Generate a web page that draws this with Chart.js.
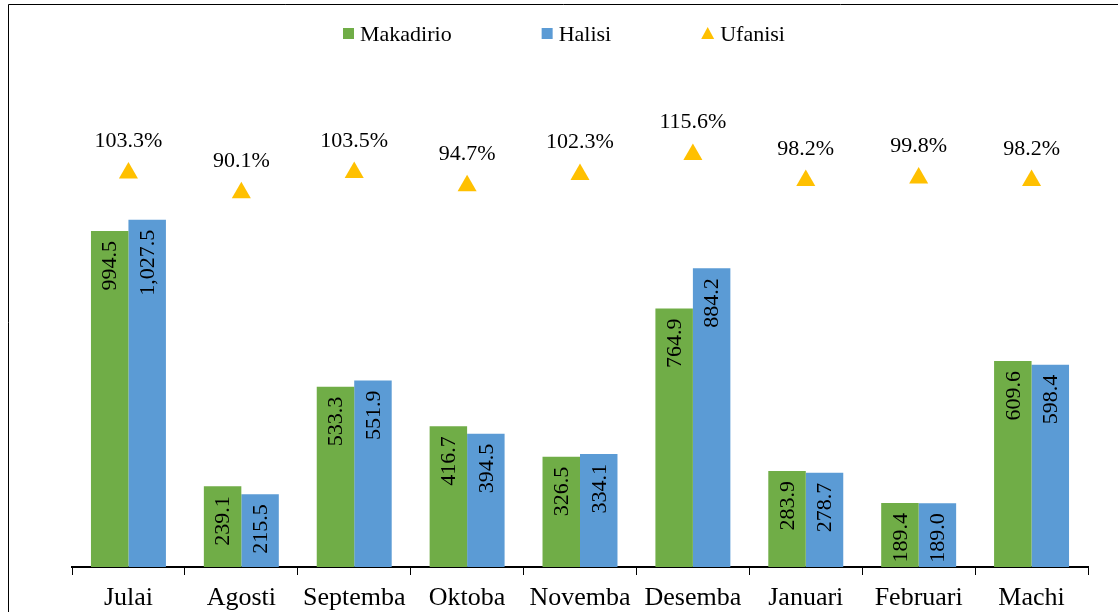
<!DOCTYPE html>
<html>
<head>
<meta charset="utf-8">
<script src="https://cdn.jsdelivr.net/npm/chart.js@4/dist/chart.umd.min.js"></script>
<style>
  html, body { margin: 0; padding: 0; background: #fff; overflow: hidden; }
  canvas { display: block; }
</style>
</head>
<body>
<canvas id="chart" width="1118" height="640"></canvas>
<script>
var months = ['Julai', 'Agosti', 'Septemba', 'Oktoba', 'Novemba', 'Desemba', 'Januari', 'Februari', 'Machi'];
var makadirio = [994.5, 239.1, 533.3, 416.7, 326.5, 764.9, 283.9, 189.4, 609.6];
var halisi = [1027.5, 215.5, 551.9, 394.5, 334.1, 884.2, 278.7, 189.0, 598.4];
var ufanisi = [103.3, 90.1, 103.5, 94.7, 102.3, 115.6, 98.2, 99.8, 98.2];

var serif = '"Liberation Serif", "Times New Roman", serif';
var green = '#70AD47';
var blue = '#5B9BD5';
var gold = '#FFC000';

function fmt(v) {
    return v.toLocaleString('en-US', { minimumFractionDigits: 1, maximumFractionDigits: 1 });
}

// frame, value labels and legend
var extras = {
    id: 'extras',
    beforeDraw: function (chart) {
        var ctx = chart.ctx;
        ctx.save();
        ctx.strokeStyle = '#000';
        ctx.lineWidth = 1;
        ctx.beginPath();
        ctx.moveTo(8.5, chart.height);
        ctx.lineTo(8.5, 4.5);
        ctx.lineTo(chart.width, 4.5);
        ctx.stroke();
        ctx.restore();
    },
    afterDatasetsDraw: function (chart) {
        var ctx = chart.ctx;
        ctx.save();
        ctx.fillStyle = '#000';
        ctx.font = '22px ' + serif;

        [0, 1].forEach(function (d) {
            var meta = chart.getDatasetMeta(d);
            meta.data.forEach(function (bar, i) {
                ctx.save();
                ctx.translate(bar.x, bar.y + 10);
                ctx.rotate(-Math.PI / 2);
                ctx.textAlign = 'right';
                ctx.textBaseline = 'middle';
                ctx.fillText(fmt(chart.data.datasets[d].data[i]), 0, 1);
                ctx.restore();
            });
        });

        var pts = chart.getDatasetMeta(2).data;
        ctx.textAlign = 'center';
        ctx.textBaseline = 'alphabetic';
        pts.forEach(function (p, i) {
            ctx.fillText(ufanisi[i].toFixed(1) + '%', p.x, p.y - 26);
        });
        ctx.restore();
    },
    afterDraw: function (chart) {
        var ctx = chart.ctx;
        ctx.save();
        ctx.font = '22px ' + serif;
        ctx.textBaseline = 'middle';
        ctx.textAlign = 'left';
        var x = 343;
        var cy = 34;
        chart.data.datasets.forEach(function (ds, i) {
            ctx.fillStyle = ds.backgroundColor;
            if (i < 2) {
                ctx.fillRect(x, cy - 6, 11, 11);
            } else {
                ctx.beginPath();
                ctx.moveTo(x + 6.5, cy - 7);
                ctx.lineTo(x + 13, cy + 5);
                ctx.lineTo(x, cy + 5);
                ctx.closePath();
                ctx.fill();
            }
            var tx = x + (i < 2 ? 17 : 19);
            ctx.fillStyle = '#000';
            ctx.fillText(ds.label, tx, cy + 1);
            x = tx + ctx.measureText(ds.label).width + 90;
        });
        ctx.restore();
    }
};

var config = {
    type: 'bar',
    data: {
        labels: months,
        datasets: [
            {
                label: 'Makadirio',
                data: makadirio,
                backgroundColor: green,
                borderWidth: 0,
                yAxisID: 'y',
                order: 2
            },
            {
                label: 'Halisi',
                data: halisi,
                backgroundColor: blue,
                borderWidth: 0,
                yAxisID: 'y',
                order: 2
            },
            {
                type: 'line',
                label: 'Ufanisi',
                data: ufanisi,
                showLine: false,
                pointStyle: 'triangle',
                pointRadius: 11,
                pointHoverRadius: 11,
                backgroundColor: gold,
                borderColor: gold,
                borderWidth: 0,
                yAxisID: 'y2',
                order: 1
            }
        ]
    },
    options: {
        responsive: false,
        animation: false,
        devicePixelRatio: 1,
        layout: { padding: { top: 94, left: 72, right: 30, bottom: 0 } },
        categoryPercentage: 0.664,
        barPercentage: 1.0,
        plugins: {
            legend: { display: false },
            tooltip: { enabled: false }
        },
        scales: {
            x: {
                grid: {
                    offset: true,
                    drawOnChartArea: false,
                    drawTicks: true,
                    tickLength: 8,
                    color: '#000',
                    lineWidth: 1
                },
                border: { display: true, color: '#000', width: 2 },
                ticks: {
                    color: '#000',
                    font: { family: serif, size: 26 },
                    padding: 8,
                    autoSkip: false,
                    maxRotation: 0
                },
                afterFit: function (s) { s.height = 640 - 567; }
            },
            y: {
                display: false,
                min: 0,
                max: 1400
            },
            y2: {
                display: false,
                position: 'right',
                min: -160,
                max: 156
            }
        }
    },
    plugins: [extras]
};

var chart = new Chart(document.getElementById('chart'), config);
</script>
</body>
</html>
